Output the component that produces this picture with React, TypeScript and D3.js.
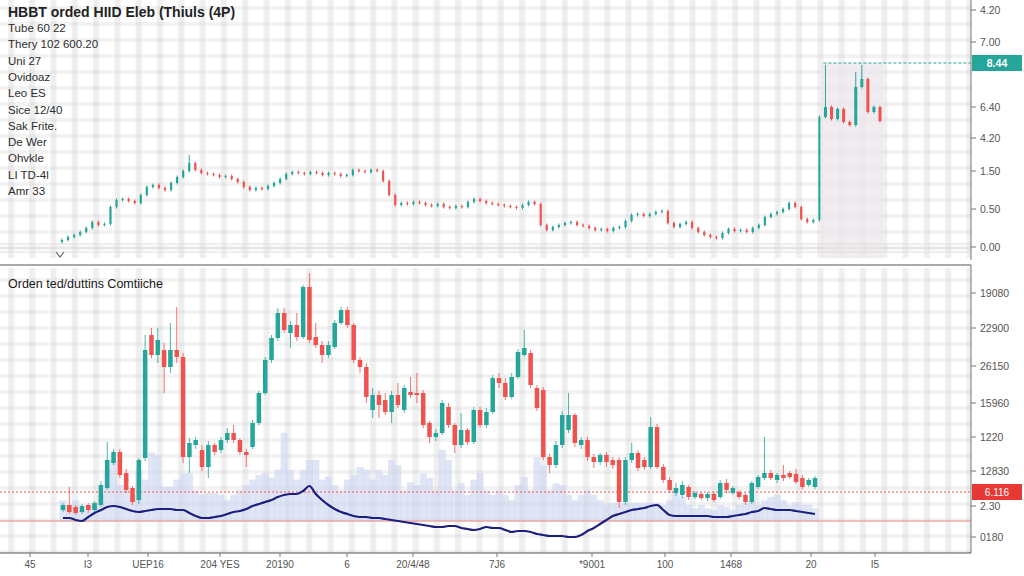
import * as d3 from "d3";

// ---- top panel data ----
const topCloses = [
  7, 10, 12, 15, 19, 25, 22, 23, 40, 47,
  48, 46, 44, 52, 60, 62, 59, 57, 64, 70,
  76, 84, 77, 74, 73, 72, 70, 71, 68, 65,
  60, 57, 59, 58, 61, 64, 68, 73, 75, 74,
  73, 75, 74, 72, 74, 73, 71, 72, 77, 76,
  75, 77, 76, 66, 52, 42, 44, 43, 45, 44,
  42, 41, 43, 40, 39, 41, 40, 45, 48, 46,
  44, 43, 42, 41, 40, 39, 42, 45, 43, 22,
  17, 20, 22, 24, 25, 22, 21, 19, 17, 18,
  16, 19, 20, 26, 32, 33, 31, 33, 35, 36,
  24, 20, 23, 25, 19, 15, 12, 10, 9, 14,
  18, 16, 17, 15, 19, 22, 30, 33, 35, 38,
  44, 40, 28, 25, 27, 130,
  140, 128, 138, 125, 122, 160, 168, 135, 140, 126,
];
const topSpikes = [
  { i: 21, high: 92 },
  { i: 126, high: 182 },
  { i: 131, high: 175 },
  { i: 132, high: 182 },
];
const topTickValues = [237, 205, 140, 109, 76, 38, 0];
const topTickLabels = ["4.20", "7.00", "6.40", "4.20", "1.50", "0.50", "0.00"];
const topLast = 184;
const topLastLabel = "8.44";

const titleTop = "HBBT orded HIID Eleb (Thiuls (4P)";
const legendLines = [
  "Tube 60 22",
  "Thery 102 600.20",
  "Uni 27",
  "Ovidoaz",
  "Leo ES",
  "Sice 12/40",
  "Sak Frite.",
  "De Wer",
  "Ohvkle",
  "LI TD-4l",
  "Amr 33",
];

// ---- bottom panel data: [open, high, low, close] ----
const titleBottom = "Orden ted/duttins Comtiiche";
const botCandles: [number, number, number, number][] = [
  [43, 50, 41, 48], [48, 66, 39, 41], [46, 48, 38, 40], [41, 49, 39, 47], [48, 50, 40, 43],
  [43, 52, 41, 50], [48, 72, 46, 68], [65, 111, 63, 93], [90, 104, 88, 101], [101, 104, 75, 78],
  [80, 84, 60, 63], [65, 67, 48, 51], [53, 95, 49, 93], [95, 218, 92, 203], [218, 225, 195, 198],
  [198, 225, 190, 213], [203, 210, 160, 186], [186, 230, 180, 203], [203, 246, 190, 196], [196, 200, 90, 96],
  [96, 115, 80, 110], [108, 116, 104, 113], [103, 108, 82, 86], [86, 112, 75, 108], [108, 110, 98, 101],
  [103, 116, 100, 113], [113, 125, 110, 120], [120, 128, 110, 113], [113, 115, 98, 101], [101, 104, 86, 98],
  [106, 133, 104, 130], [130, 162, 128, 160], [160, 196, 158, 193], [193, 218, 190, 215], [215, 245, 212, 240],
  [240, 245, 220, 223], [220, 232, 205, 228], [228, 240, 212, 216], [216, 268, 214, 266], [266, 280, 210, 213],
  [216, 230, 205, 208], [208, 212, 190, 198], [198, 212, 195, 208], [206, 233, 204, 230], [230, 246, 228, 243],
  [243, 246, 225, 228], [228, 230, 190, 193], [193, 196, 180, 186], [186, 190, 150, 156], [143, 165, 135, 158],
  [158, 162, 135, 148], [153, 160, 138, 141], [141, 162, 130, 158], [158, 170, 145, 148], [143, 168, 140, 165],
  [161, 176, 155, 158], [160, 180, 150, 158], [160, 163, 125, 128], [130, 132, 110, 116], [116, 124, 112, 120],
  [120, 153, 118, 150], [146, 150, 125, 128], [128, 130, 100, 108], [108, 140, 105, 123], [123, 125, 108, 111],
  [111, 146, 109, 143], [143, 146, 125, 128], [128, 145, 125, 141], [141, 178, 139, 175], [175, 180, 165, 170],
  [170, 175, 153, 156], [156, 180, 154, 176], [176, 204, 174, 201], [198, 223, 196, 205], [200, 203, 165, 168],
  [165, 168, 142, 145], [163, 166, 93, 96], [96, 99, 80, 88], [88, 112, 85, 108], [108, 142, 105, 138],
  [123, 160, 120, 138], [138, 140, 106, 110], [108, 116, 104, 113], [113, 116, 92, 96], [96, 99, 85, 91],
  [91, 100, 88, 98], [98, 101, 86, 91], [93, 96, 84, 88], [93, 96, 45, 51], [51, 96, 48, 93],
  [93, 110, 90, 100], [100, 103, 82, 85], [93, 96, 83, 86], [86, 136, 84, 126], [126, 129, 84, 86],
  [86, 89, 70, 73], [73, 76, 60, 63], [60, 70, 57, 65], [58, 72, 55, 68], [66, 68, 53, 56],
  [56, 62, 54, 60], [59, 61, 53, 55], [55, 61, 52, 59], [59, 61, 51, 53], [56, 73, 54, 70],
  [70, 74, 60, 63], [60, 67, 58, 65], [61, 63, 54, 56], [58, 60, 48, 51], [51, 72, 49, 70],
  [66, 78, 64, 76], [75, 116, 73, 80], [80, 83, 73, 75], [73, 80, 70, 78], [78, 88, 72, 75],
  [80, 82, 74, 76], [79, 84, 69, 71], [75, 78, 64, 66], [68, 75, 66, 73], [66, 77, 64, 75],
];
const botVolume = [
  23, 18, 23, 12, 18, 20, 29, 57, 68, 40,
  34, 29, 57, 46, 76, 73, 38, 38, 46, 53,
  53, 34, 29, 31, 31, 29, 23, 29, 34, 40,
  46, 51, 53, 48, 57, 98, 57, 46, 57, 68,
  68, 46, 49, 40, 34, 46, 51, 60, 57, 46,
  57, 51, 68, 62, 34, 43, 40, 53, 48, 34,
  79, 68, 34, 42, 29, 46, 53, 34, 29, 34,
  29, 23, 40, 49, 34, 71, 62, 34, 42, 40,
  29, 23, 29, 34, 29, 23, 18, 20, 20, 20,
  20, 20, 20, 20, 20, 18, 23, 31, 27, 18,
  14, 18, 14, 12, 18, 16, 12, 18, 20, 23,
  18, 23, 27, 29, 23, 18, 21, 18, 18, 14,
];
const botAvg = [
  35, 35, 33, 32, 36, 40, 43, 46, 47, 46,
  44, 42, 41, 42, 43, 44, 44, 44, 43, 43,
  40, 37, 35, 35, 36, 37, 39, 41, 42, 44,
  47, 49, 51, 53, 56, 58, 59, 59, 62, 67,
  59, 53, 48, 44, 41, 39, 37, 36, 36, 35,
  35, 34, 33, 32, 31, 30, 29, 28, 27, 26,
  26, 27, 27, 25, 24, 23, 24, 26, 25, 25,
  23, 21, 22, 22, 21, 19, 18, 17, 17, 17,
  16, 16, 18, 22, 25, 29, 33, 37, 39, 41,
  43, 44, 45, 47, 48, 43, 38, 37, 37, 37,
  37, 37, 37, 36, 36, 36, 37, 38, 39, 41,
  42, 45, 44, 43, 43, 43, 42, 41, 40, 39,
];
const botTickValues = [260, 225, 187, 150, 116, 82, 47, 16];
const botTickLabels = ["19080", "22900", "26150", "15960", "1220", "12830", "2.30", "0180"];
const botLast = 61;
const botLastLabel = "6.116";
const botBase = 32;

// ---- shared x axis ----
const xTickDays = [0, 58, 118, 190, 250, 317, 383, 467, 562, 635, 701, 781, 845];
const xTickLabels = ["45", "I3", "UEP16", "204 YES", "20190", "6", "20/4/48", "7J6", "*9001", "100", "1468", "20", "I5"];

const UP = "#26a69a";
const DOWN = "#ef5350";
const FONT = "'Liberation Sans', Arial, sans-serif";
const AXIS_X = 971;

export default function App() {
  const width = 1024;
  const height = 576;

  const xTop = d3.scaleLinear().domain([0, topCloses.length - 1]).range([62, 880]);
  const yTop = d3.scaleLinear().domain([0, 237]).range([247, 10]);

  const xBot = d3.scaleLinear().domain([0, botCandles.length - 1]).range([63, 815]);
  const yBot = d3.scaleLinear().domain([0, 288]).range([553, 265]);
  const yVol = d3.scaleLinear().domain([0, 100]).range([yBot(botBase), yBot(botBase) - 90]);

  const xAxis = d3.scaleLinear().domain([0, 845]).range([30, 875]);

  const avgLine = d3
    .line<number>()
    .x((_, i) => xBot(i))
    .y((d) => yBot(d))
    .curve(d3.curveMonotoneX);

  const topCandles = topCloses.map((c, i) => {
    const o = i > 0 ? topCloses[i - 1] : c - 2;
    const spike = topSpikes.find((s) => s.i === i);
    return {
      o,
      c,
      h: spike ? spike.high : Math.max(o, c) + 1.5,
      l: Math.min(o, c) - 1.5,
    };
  });
  const jumpIdx = topCloses.indexOf(130);

  return (
    <svg
      width={width}
      height={height}
      style={{ position: "absolute", left: 0, top: 0, background: "#fff" }}
      fontFamily={FONT}
    >
      <defs>
        <pattern id="grid" width={21.3} height={16} patternUnits="userSpaceOnUse">
          <rect x={8} y={0} width={6} height={16} fill="#efefef" />
          <rect x={0} y={6} width={21.3} height={4} fill="#f3f3f3" />
          <rect x={8} y={6} width={6} height={4} fill="#e6e6e6" />
        </pattern>
      </defs>
      <rect x={0} y={0} width={AXIS_X} height={258} fill="url(#grid)" />
      <rect x={0} y={268} width={AXIS_X} height={285} fill="url(#grid)" />

      {/* ---- top panel ---- */}
      <rect
        x={xTop(jumpIdx) + 2}
        y={yTop(topLast)}
        width={880 - xTop(jumpIdx)}
        height={258 - yTop(topLast)}
        fill="#ebe6e9"
        opacity={0.75}
      />
      {[244, 248, 252].map((y) => (
        <line key={y} x1={0} x2={AXIS_X} y1={y} y2={y} stroke="#dcdcdc" strokeWidth={1} />
      ))}
      <path d="M56,252 L60,257 L64,252" fill="none" stroke="#666" strokeWidth={1.2} />

      <line
        x1={xTop(jumpIdx) + 4}
        x2={AXIS_X}
        y1={yTop(topLast)}
        y2={yTop(topLast)}
        stroke={UP}
        strokeWidth={1}
        strokeDasharray="3 2"
      />

      {topCandles.map((d, i) => {
        const up = d.c >= d.o;
        const color = up ? UP : DOWN;
        const x = xTop(i);
        const w = i === jumpIdx ? 2 : i > jumpIdx ? 3 : 2.2;
        const top = yTop(Math.max(d.o, d.c));
        const bot = yTop(Math.min(d.o, d.c));
        return (
          <g key={i}>
            <line x1={x} x2={x} y1={yTop(d.h)} y2={yTop(d.l)} stroke={color} strokeWidth={1} />
            <rect x={x - w / 2} y={top} width={w} height={Math.max(1, bot - top)} fill={color} />
          </g>
        );
      })}

      <text x={8} y={17} fontSize={14} fontWeight="bold" fill="#222">
        {titleTop}
      </text>
      {legendLines.map((t, i) => (
        <text key={i} x={8} y={32 + i * 16.3} fontSize={11.5} fill="#2b2b2b">
          {t}
        </text>
      ))}

      {/* top axis */}
      <line x1={AXIS_X} x2={AXIS_X} y1={0} y2={260} stroke="#777" strokeWidth={1} />
      {topTickValues.map((v, i) => (
        <g key={i} transform={`translate(${AXIS_X},${yTop(v)})`}>
          <line x1={0} x2={5} stroke="#777" />
          <text x={9} dy="0.35em" fontSize={10.5} fill="#555">
            {topTickLabels[i]}
          </text>
        </g>
      ))}
      <rect x={AXIS_X + 1} y={yTop(topLast) - 8} width={50} height={16} fill={UP} />
      <text
        x={AXIS_X + 26}
        y={yTop(topLast)}
        dy="0.35em"
        textAnchor="middle"
        fontSize={10.5}
        fontWeight="bold"
        fill="#fff"
      >
        {topLastLabel}
      </text>

      {/* separator */}
      <line x1={0} x2={AXIS_X} y1={265} y2={265} stroke="#555" strokeWidth={1.2} />

      {/* ---- bottom panel ---- */}
      {botVolume.map((v, i) => (
        <rect
          key={i}
          x={xBot(i) - 3.5}
          y={yVol(v)}
          width={7}
          height={yVol(0) - yVol(v)}
          fill="#cdd6f2"
          opacity={0.6}
        />
      ))}

      <line
        x1={0}
        x2={AXIS_X}
        y1={yBot(botLast)}
        y2={yBot(botLast)}
        stroke={DOWN}
        strokeWidth={1}
        strokeDasharray="2 2"
      />
      <line x1={0} x2={AXIS_X} y1={yBot(botBase)} y2={yBot(botBase)} stroke="#f08a80" strokeWidth={1.2} />

      {botCandles.map(([o, h, l, c], i) => {
        const up = c >= o;
        const color = up ? UP : DOWN;
        const x = xBot(i);
        const w = 4.5;
        const top = yBot(Math.max(o, c));
        const bot = yBot(Math.min(o, c));
        return (
          <g key={i}>
            <line x1={x} x2={x} y1={yBot(h)} y2={yBot(l)} stroke={color} strokeWidth={1} opacity={0.8} />
            <rect x={x - w / 2} y={top} width={w} height={Math.max(1.5, bot - top)} fill={color} />
          </g>
        );
      })}

      <path d={avgLine(botAvg) ?? ""} fill="none" stroke="#1b1f7e" strokeWidth={2.2} />

      <text x={8} y={288} fontSize={12.5} fill="#1a1a1a">
        {titleBottom}
      </text>

      {/* bottom right axis */}
      <line x1={AXIS_X} x2={AXIS_X} y1={265} y2={553} stroke="#777" strokeWidth={1} />
      {botTickValues.map((v, i) => (
        <g key={i} transform={`translate(${AXIS_X},${yBot(v)})`}>
          <line x1={0} x2={5} stroke="#777" />
          <text x={9} dy="0.35em" fontSize={10.5} fill="#555">
            {botTickLabels[i]}
          </text>
        </g>
      ))}
      <rect x={AXIS_X + 1} y={yBot(botLast) - 8} width={50} height={16} fill="#e53935" />
      <text
        x={AXIS_X + 26}
        y={yBot(botLast)}
        dy="0.35em"
        textAnchor="middle"
        fontSize={10}
        fill="#fff"
      >
        {botLastLabel}
      </text>

      {/* bottom x axis */}
      <line x1={0} x2={AXIS_X} y1={553} y2={553} stroke="#555" strokeWidth={1.2} />
      {xTickDays.map((d, i) => (
        <g key={i} transform={`translate(${xAxis(d)},553)`}>
          <line y1={0} y2={4} stroke="#777" />
          <text y={15} textAnchor="middle" fontSize={10} fill="#555">
            {xTickLabels[i]}
          </text>
        </g>
      ))}
    </svg>
  );
}
